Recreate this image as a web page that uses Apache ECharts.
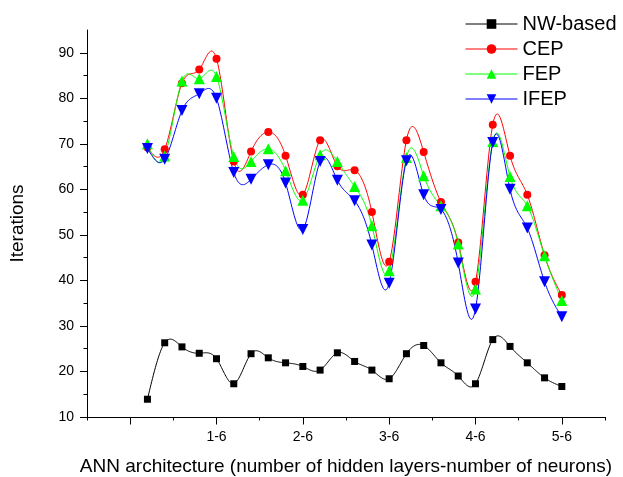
<!DOCTYPE html>
<html>
<head>
<meta charset="utf-8">
<script src="https://cdn.jsdelivr.net/npm/echarts@6/dist/echarts.min.js"></script>
<style>
html,body{margin:0;padding:0;background:#fff;}
#chart{width:623px;height:477px;}
</style>
</head>
<body>
<div id="chart"></div>
<script>
const xPositions = [1, 2, 3, 4, 5, 6, 7, 8, 9, 10, 11, 12, 13, 14, 15, 16, 17, 18, 19, 20, 21, 22, 23, 24, 25];
const tickLabels = ['1-6', '2-6', '3-6', '4-6', '5-6'];
const tickLabelPositions = [5, 10, 15, 20, 25];
const seriesNames = ['NW-based', 'CEP', 'FEP', 'IFEP'];
const nwBased = [13.9, 26.3, 25.4, 24.0, 22.8, 17.3, 23.9, 23.0, 21.9, 21.1, 20.3, 24.1, 22.2, 20.3, 18.4, 23.9, 25.7, 21.9, 19.0, 17.3, 27.0, 25.5, 21.9, 18.6, 16.7];
const cep = [69.2, 68.8, 83.3, 86.3, 88.7, 66.1, 68.3, 72.6, 67.4, 58.8, 70.8, 65.1, 64.2, 55.0, 44.1, 70.8, 68.2, 57.2, 48.3, 39.7, 74.2, 67.4, 58.8, 45.5, 36.8];
const fep = [70.0, 67.3, 83.8, 84.3, 84.8, 67.2, 66.1, 68.9, 64.1, 57.6, 67.6, 66.1, 60.6, 52.0, 42.1, 67.0, 63.0, 56.4, 48.0, 38.1, 70.5, 62.8, 56.4, 45.4, 35.6];
const ifep = [69.0, 66.6, 77.3, 81.0, 80.0, 63.7, 62.2, 65.4, 61.4, 51.2, 66.1, 62.0, 57.5, 47.8, 39.4, 66.3, 58.8, 55.6, 43.8, 33.7, 70.3, 60.0, 51.5, 39.7, 32.0];
const yMajorTicks = [10, 20, 30, 40, 50, 60, 70, 80, 90];
const yMinorTicks = [15, 25, 35, 45, 55, 65, 75, 85];
const xMajorTicks = [0, 5, 10, 15, 20, 25];
const xMinorTicks = [-2.5, 2.5, 7.5, 12.5, 17.5, 22.5, 27.5];

function pairs(vals) { return xPositions.map((x, i) => [x, vals[i]]); }

// natural cubic spline through pixel points (x increasing), sampled for drawing
function splinePath(pts, samples) {
  const n = pts.length;
  const x = pts.map(p => p[0]), y = pts.map(p => p[1]);
  const h = [];
  for (let i = 0; i < n - 1; i++) h.push(x[i + 1] - x[i]);
  const a = new Array(n).fill(0), b = new Array(n).fill(0), c = new Array(n).fill(0), d = new Array(n).fill(0);
  b[0] = 1; b[n - 1] = 1;
  for (let i = 1; i < n - 1; i++) {
    a[i] = h[i - 1];
    b[i] = 2 * (h[i - 1] + h[i]);
    c[i] = h[i];
    d[i] = 6 * ((y[i + 1] - y[i]) / h[i] - (y[i] - y[i - 1]) / h[i - 1]);
  }
  const cp = new Array(n).fill(0), dp = new Array(n).fill(0);
  cp[0] = c[0] / b[0]; dp[0] = d[0] / b[0];
  for (let i = 1; i < n; i++) {
    const m = b[i] - a[i] * cp[i - 1];
    cp[i] = c[i] / m;
    dp[i] = (d[i] - a[i] * dp[i - 1]) / m;
  }
  const M = new Array(n).fill(0);
  M[n - 1] = dp[n - 1];
  for (let i = n - 2; i >= 0; i--) M[i] = dp[i] - cp[i] * M[i + 1];
  const out = [];
  for (let i = 0; i < n - 1; i++) {
    for (let s = 0; s < samples; s++) {
      const t = s / samples;
      const xx = x[i] + t * h[i];
      const A = (x[i + 1] - xx) / h[i], B = (xx - x[i]) / h[i];
      const yy = A * y[i] + B * y[i + 1] + ((A * A * A - A) * M[i] + (B * B * B - B) * M[i + 1]) * h[i] * h[i] / 6;
      out.push([xx, yy]);
    }
  }
  out.push([x[n - 1], y[n - 1]]);
  return out;
}

const chart = echarts.init(document.getElementById('chart'), null, {renderer: 'canvas'});
const font = 'Liberation Sans, Arial, sans-serif';
const baseX = {
  type: 'value', min: -2.5, max: 27.5, position: 'bottom', gridIndex: 0,
  splitLine: {show: false}
};
const baseY = {
  type: 'value', min: 10, max: 95, position: 'left', gridIndex: 0,
  splitLine: {show: false}
};
function markerSeries(name, vals, color, symbol, size, rotate) {
  return {
    name: name, type: 'line', xAxisIndex: 0, yAxisIndex: 0,
    data: pairs(vals), smooth: false,
    symbol: symbol, symbolSize: size, symbolRotate: rotate || 0,
    showAllSymbol: true,
    lineStyle: {color: color, width: 1, opacity: 0},
    itemStyle: {color: color},
    emphasis: {disabled: true},
    z: 3
  };
}
function curveSeries(name, vals, color) {
  return {
    name: name + ' curve', type: 'custom', xAxisIndex: 0, yAxisIndex: 0,
    data: pairs(vals), encode: {x: 0, y: 1}, z: 2, silent: true,
    renderItem: function (params, api) {
      if (params.dataIndex !== 0) return null;
      const px = vals.map((v, i) => api.coord([xPositions[i], v]));
      return {
        type: 'polyline',
        shape: {points: splinePath(px, 24)},
        style: {stroke: color, lineWidth: 1, fill: null}
      };
    }
  };
}
chart.setOption({
  animation: false,
  backgroundColor: '#fff',
  textStyle: {fontFamily: font},
  grid: {left: 87, right: 18, top: 30, bottom: 60, containLabel: false, outerBoundsMode: 'none'},
  legend: {
    orient: 'vertical', left: 465, top: 14, padding: 0,
    itemWidth: 52, itemHeight: 12, itemGap: 5,
    lineStyle: {opacity: 1, width: 1},
    textStyle: {fontSize: 20, color: '#000', fontFamily: font},
    data: seriesNames
  },
  xAxis: [
    Object.assign({}, baseX, {
      name: 'ANN architecture (number of hidden layers-number of neurons)',
      nameLocation: 'middle', nameGap: 40,
      nameTextStyle: {fontSize: 19, color: '#000', fontFamily: font},
      axisLine: {show: true, onZero: false, lineStyle: {color: '#000', width: 1}},
      axisTick: {show: true, customValues: xMinorTicks, length: 3.5, lineStyle: {color: '#000'}},
      axisLabel: {show: true, customValues: tickLabelPositions, fontSize: 14, color: '#000', margin: 13,
        formatter: v => { const i = tickLabelPositions.indexOf(v); return i >= 0 ? tickLabels[i] : ''; }}
    }),
    Object.assign({}, baseX, {
      axisLine: {show: false, onZero: false},
      axisTick: {show: true, customValues: xMajorTicks, length: 7.5, lineStyle: {color: '#000'}},
      axisLabel: {show: false}
    })
  ],
  yAxis: [
    Object.assign({}, baseY, {
      name: 'Iterations', nameLocation: 'middle', nameGap: 60,
      nameTextStyle: {fontSize: 19, color: '#000', fontFamily: font},
      axisLine: {show: true, onZero: false, lineStyle: {color: '#000', width: 1}},
      axisTick: {show: true, customValues: yMajorTicks, length: 7, lineStyle: {color: '#000'}},
      axisLabel: {show: true, customValues: yMajorTicks, fontSize: 14, color: '#000', margin: 13}
    }),
    Object.assign({}, baseY, {
      axisLine: {show: false, onZero: false},
      axisTick: {show: true, customValues: yMinorTicks, length: 3.5, lineStyle: {color: '#000'}},
      axisLabel: {show: false}
    })
  ],
  series: [
    curveSeries('NW-based', nwBased, '#000000'),
    curveSeries('CEP', cep, '#ff0000'),
    curveSeries('FEP', fep, '#00ff00'),
    curveSeries('IFEP', ifep, '#0000ff'),
    markerSeries('NW-based', nwBased, '#000000', 'rect', 7),
    markerSeries('CEP', cep, '#ff0000', 'circle', 8),
    markerSeries('FEP', fep, '#00ff00', 'triangle', 11),
    markerSeries('IFEP', ifep, '#0000ff', 'triangle', 11, 180)
  ]
});
</script>
</body>
</html>
